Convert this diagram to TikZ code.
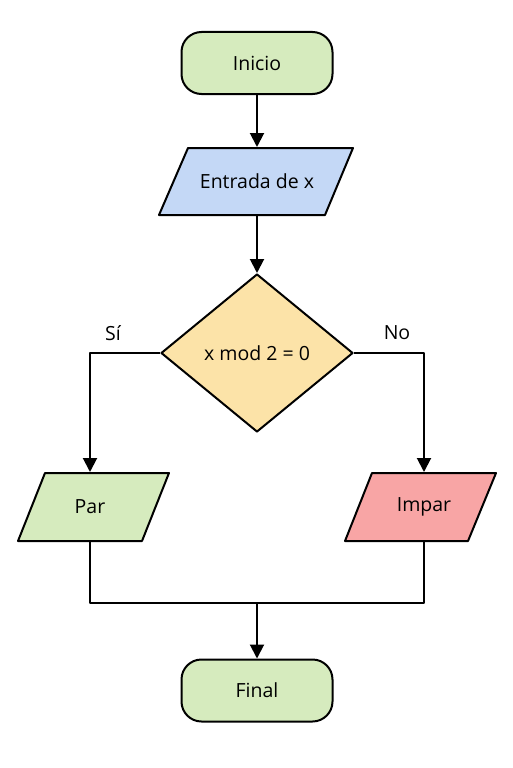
\documentclass[tikz,border=0pt]{standalone}
\usepackage{fontspec}
\setmainfont{Open Sans}
\usetikzlibrary{shapes.geometric,arrows.meta}
\definecolor{gfill}{RGB}{214,235,190}
\definecolor{bfill}{RGB}{196,216,246}
\definecolor{yfill}{RGB}{252,227,168}
\definecolor{rfill}{RGB}{248,165,165}
\begin{document}
\begin{tikzpicture}[x=1pt,y=-1pt, line width=2pt, line join=round,
  lbl/.style={font=\fontsize{19.5}{22}\selectfont},
  term/.style={draw, rounded corners=20pt, minimum width=151pt, minimum height=62pt, fill=gfill, lbl},
  para/.style={inner sep=0pt, minimum width=100pt, minimum height=67pt, lbl},
  conn/.style={-{Triangle[length=14pt,width=14pt]}}
]
\useasboundingbox[fill=white] (0,0) rectangle (512,768);

\node[term] (inicio) at (257,63) {Inicio};

\draw[fill=bfill] (188,148) -- (353,148) -- (325,215) -- (159,215) -- cycle;
\node[para] (entrada) at (257,181.5) {Entrada de x};

\node[diamond, draw, fill=yfill, minimum width=192pt, minimum height=158pt, inner sep=0pt, lbl] (dec) at (257,353) {x mod 2 = 0};

\draw[fill=gfill] (45,473) -- (169,473) -- (142,541) -- (18,541) -- cycle;
\node[para, minimum height=68pt] (par) at (90,507) {Par};

\draw[fill=rfill] (372,473) -- (496,473) -- (468,541) -- (345,541) -- cycle;
\node[para, minimum height=68pt] (impar) at (424,507) {Impar};

\node[term] (final) at (257,690.5) {Final};

\node[lbl] (si) at (113,333) {Sí};
\node[lbl] (no) at (397,333) {No};

\coordinate (j) at (257,603);

\draw[conn] (inicio.south) -- (entrada.north);
\draw[conn] (entrada.south) -- (dec.north);
\draw[conn] (dec.west) -| (par.north);
\draw[conn] (dec.east) -| (impar.north);
\draw (par.south) |- (j) -| (impar.south);
\draw[conn] (j) -- (final.north);
\end{tikzpicture}
\end{document}
